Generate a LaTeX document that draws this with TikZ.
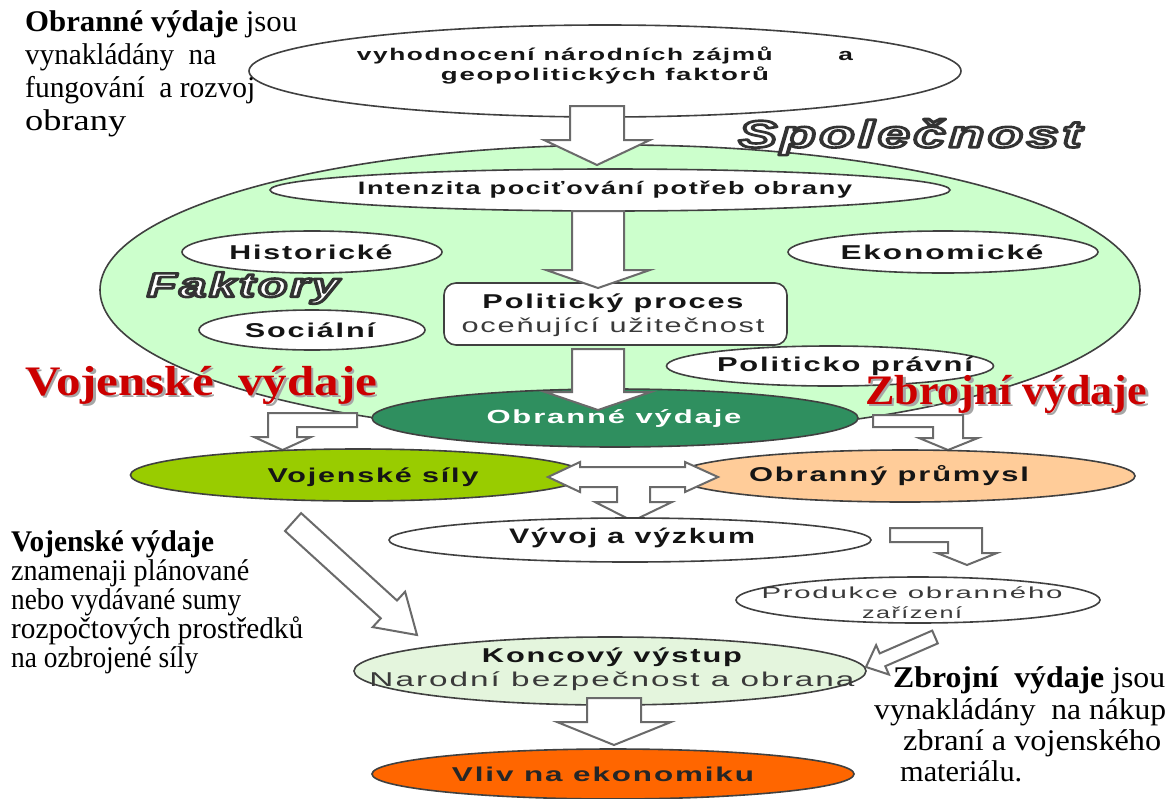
\documentclass[tikz,border=0pt]{standalone}
\usepackage{fontspec}
\usepackage{graphicx}
\setmainfont{Liberation Serif}
\newfontfamily\lsans[LetterSpace=6]{Liberation Sans}
\usetikzlibrary{shapes.geometric}

% stretch a line of text horizontally to a given width
\newsavebox{\fitbox}
\newcommand{\fitto}[2]{\sbox{\fitbox}{#2}\resizebox{#1}{\ht\fitbox}{\usebox{\fitbox}}}
% white letters with a dark outline (fill and stroke text render mode)
\newcommand{\hollowtext}[1]{\special{pdf:literal direct 2 Tr 2.6 w 1 j 0.2 0.2 0.2 RG}#1\special{pdf:literal direct 0 Tr}}
% block arrow pointing down: centre x, top, head base, tip, shaft half width, head half width
\newcommand{\blockdown}[6]{\draw[blk] (#1-#5,#2) -- (#1+#5,#2) -- (#1+#5,#3) -- (#1+#6,#3) -- (#1,#4) -- (#1-#6,#3) -- (#1-#5,#3) -- cycle;}

\definecolor{socgreen}{HTML}{CCFFCC}
\definecolor{darkgrn}{HTML}{2F8F5F}
\definecolor{limegrn}{HTML}{99CC00}
\definecolor{peach}{HTML}{FFCC99}
\definecolor{palegrn}{HTML}{E4F5DD}
\definecolor{orng}{HTML}{FF6600}
\definecolor{redtxt}{HTML}{CC0000}
\definecolor{ovalline}{HTML}{404040}
\definecolor{arrowline}{HTML}{6A6A6A}
\definecolor{labeltext}{HTML}{151515}
\definecolor{softtext}{HTML}{3A3A3A}

\tikzset{
  oval/.style={ellipse, draw=ovalline, line width=1.6pt, inner sep=0pt},
  blk/.style={fill=white, draw=arrowline, line width=2pt, line join=miter},
  lbl/.style={inner sep=0pt, text=labeltext, font=\lsans\bfseries\fontsize{20}{24}\selectfont},
  serif/.style={inner sep=0pt, anchor=base west, text=black, font=\fontsize{30}{34}\selectfont},
  bigred/.style={inner sep=0pt, anchor=base west, text=redtxt, font=\bfseries\fontsize{42}{46}\selectfont},
  redshadow/.style={bigred, text=black!35},
  hollow/.style={inner sep=0pt, text=white, font=\lsans\bfseries\itshape}
}

\begin{document}
\begin{tikzpicture}[x=1pt,y=-1pt]
\useasboundingbox[fill=white] (0,0) rectangle (1169,798);

% society ellipse with its factors
\node[oval, fill=socgreen, minimum width=1040pt, minimum height=290pt] (soc) at (620,290) {};
\node[oval, fill=white, minimum width=712pt, minimum height=92pt] (top) at (605,71) {};
\node[lbl, font=\lsans\bfseries\fontsize{17}{20}\selectfont, align=center] (topT) at (605,65)
  {\fitto{496pt}{vyhodnocení národních zájmů\hspace{2.5em}a}\\ \fitto{328pt}{geopolitických faktorů}};
\blockdown{597}{106}{140}{165}{27}{53}

\node[oval, fill=white, minimum width=680pt, minimum height=42pt] (int) at (610,190) {};
\node[lbl, font=\lsans\bfseries\fontsize{18}{22}\selectfont] (intT) at (605,190) {\fitto{494pt}{Intenzita pociťování potřeb obrany}};

\node[oval, fill=white, minimum width=260pt, minimum height=42pt] (his) at (312,252) {};
\node[lbl] (hisT) at (311,252) {\fitto{163pt}{Historické}};
\node[oval, fill=white, minimum width=310pt, minimum height=42pt] (eko) at (943,252) {};
\node[lbl] (ekoT) at (942,252) {\fitto{203pt}{Ekonomické}};
\node[oval, fill=white, minimum width=226pt, minimum height=40pt] (soci) at (312,330) {};
\node[lbl] (sociT) at (310,330) {\fitto{130pt}{Sociální}};
\node[oval, fill=white, minimum width=327pt, minimum height=40pt] (prav) at (830,366) {};
\node[lbl] (pravT) at (845,366) {\fitto{256pt}{Politicko právní}};

\node[draw=ovalline, line width=1.6pt, fill=white, rounded corners=12pt, inner sep=0pt,
      minimum width=343pt, minimum height=62pt] (proc) at (615.5,314) {};
\node[lbl, align=center, font=\lsans\fontsize{20}{24}\selectfont] (procT) at (613,315)
  {\fitto{261pt}{\bfseries Politický proces}\\ \textcolor{softtext}{\fitto{303pt}{oceňující užitečnost}}};
\blockdown{598}{211}{270}{288}{26}{52}

\node[hollow, font=\lsans\bfseries\itshape\fontsize{38}{40}\selectfont] (spol) at (910,137)
  {\fitto{343pt}{\hollowtext{Společnost}}};
\node[hollow, font=\lsans\bfseries\itshape\fontsize{34}{36}\selectfont] (fakt) at (243,288)
  {\fitto{192pt}{\hollowtext{Faktory}}};

% defence spending and its two branches
\node[oval, fill=darkgrn, minimum width=486pt, minimum height=58pt] (obr) at (615,418) {};
\node[lbl, text=white, font=\lsans\bfseries\fontsize{19}{22}\selectfont] (obrT) at (614,418) {\fitto{255pt}{Obranné výdaje}};
\blockdown{598}{349}{392}{410}{26}{53}

\node[redshadow] (vvS) at (27.5,397.5) {\fitto{352pt}{Vojenské\ \ výdaje}};
\node[bigred] (vv) at (25,395) {\fitto{352pt}{Vojenské\ \ výdaje}};
\node[redshadow] (zvS) at (867.5,406.5) {\fitto{282pt}{Zbrojní výdaje}};
\node[bigred] (zv) at (865,404) {\fitto{282pt}{Zbrojní výdaje}};

\draw[blk] (357,413) -- (357,427) -- (297,427) -- (297,437) -- (311,437) -- (282.5,450)
  -- (254,437) -- (268,437) -- (268,413) -- cycle;
\draw[blk] (873,415) -- (963,415) -- (963,438) -- (978,438) -- (948,450) -- (919,438)
  -- (933,438) -- (933,427) -- (873,427) -- cycle;

\node[oval, fill=limegrn, minimum width=455pt, minimum height=52pt] (voj) at (358,475) {};
\node[lbl] (vojT) at (373,477) {\fitto{211pt}{Vojenské síly}};
\node[oval, fill=peach, minimum width=460pt, minimum height=52pt] (prum) at (905,476) {};
\node[lbl] (prumT) at (889,476) {\fitto{280pt}{Obranný průmysl}};

% exchange between forces and industry, feeding research
\draw[blk] (548,477) -- (580,462) -- (580,467) -- (685,467) -- (685,462) -- (718,477)
  -- (685,492) -- (685,487) -- (650,487) -- (650,502) -- (672,502) -- (632.5,521)
  -- (595,502) -- (617,502) -- (617,487) -- (580,487) -- (580,492) -- cycle;

\node[oval, fill=white, minimum width=482pt, minimum height=44pt] (vyv) at (630,540) {};
\node[lbl, font=\lsans\bfseries\fontsize{21}{24}\selectfont] (vyvT) at (632,538) {\fitto{246pt}{Vývoj a výzkum}};

\draw[blk] (890,528) -- (982,528) -- (982,553) -- (997,553) -- (967,565) -- (937,553)
  -- (948,553) -- (948,542) -- (890,542) -- cycle;

\node[oval, fill=white, minimum width=364pt, minimum height=46pt] (prod) at (918,600) {};
\node[lbl, align=center, text=softtext, font=\lsans\fontsize{16}{20}\selectfont] (prodT) at (912,603)
  {\fitto{301pt}{Produkce obranného}\\ \fitto{100pt}{zařízení}};

% final output and its effect
\node[oval, fill=palegrn, minimum width=512pt, minimum height=68pt] (kon) at (610,671) {};
\node[lbl, align=center, font=\lsans\fontsize{20}{24}\selectfont] (konT) at (612,669)
  {\fitto{260pt}{\bfseries Koncový výstup}\\ \textcolor{softtext}{\fitto{485pt}{Narodní bezpečnost a obrana}}};

\draw[blk] (285,531) -- (380.8,618.3) -- (372.7,627.1) -- (417,635) -- (405.1,591.7)
  -- (397,600.5) -- (301.1,513.1) -- cycle;
\draw[blk] (932.2,630.6) -- (879.7,653.4) -- (876.1,645.1) -- (866,667) -- (888.9,674.5)
  -- (885.3,666.2) -- (937.8,643.4) -- cycle;

\blockdown{614}{698}{722}{745}{27}{57}
\node[oval, fill=orng, draw=black!75, minimum width=482pt, minimum height=50pt] (vli) at (613,774) {};
\node[lbl, text=black!85] (vliT) at (603,774) {\fitto{302pt}{Vliv na ekonomiku}};

% explanatory notes
\node[serif] (ob1) at (25,31) {\fitto{272pt}{\textbf{Obranné výdaje} jsou}};
\node[serif] (ob2) at (25,64) {\fitto{191pt}{vynakládány\ \ na}};
\node[serif] (ob3) at (25,97) {\fitto{230pt}{fungování\ \ a rozvoj}};
\node[serif] (ob4) at (25,130) {\fitto{101pt}{obrany}};

\node[serif] (vv1) at (11,551) {\fitto{203pt}{\textbf{Vojenské výdaje}}};
\node[serif] (vv2) at (11,580) {\fitto{238pt}{znamenaji plánované}};
\node[serif] (vv3) at (11,609) {\fitto{230pt}{nebo vydávané sumy}};
\node[serif] (vv4) at (11,638) {\fitto{292pt}{rozpočtových prostředků}};
\node[serif] (vv5) at (11,667) {\fitto{187pt}{na ozbrojené síly}};

\node[serif] (zv1) at (893,687) {\fitto{272pt}{\textbf{Zbrojní\ \ výdaje} jsou}};
\node[serif] (zv2) at (874,719) {\fitto{292pt}{vynakládány\ \ na nákup}};
\node[serif] (zv3) at (903,750) {\fitto{258pt}{zbraní a vojenského}};
\node[serif] (zv4) at (900,781) {\fitto{122pt}{materiálu.}};
\end{tikzpicture}
\end{document}
